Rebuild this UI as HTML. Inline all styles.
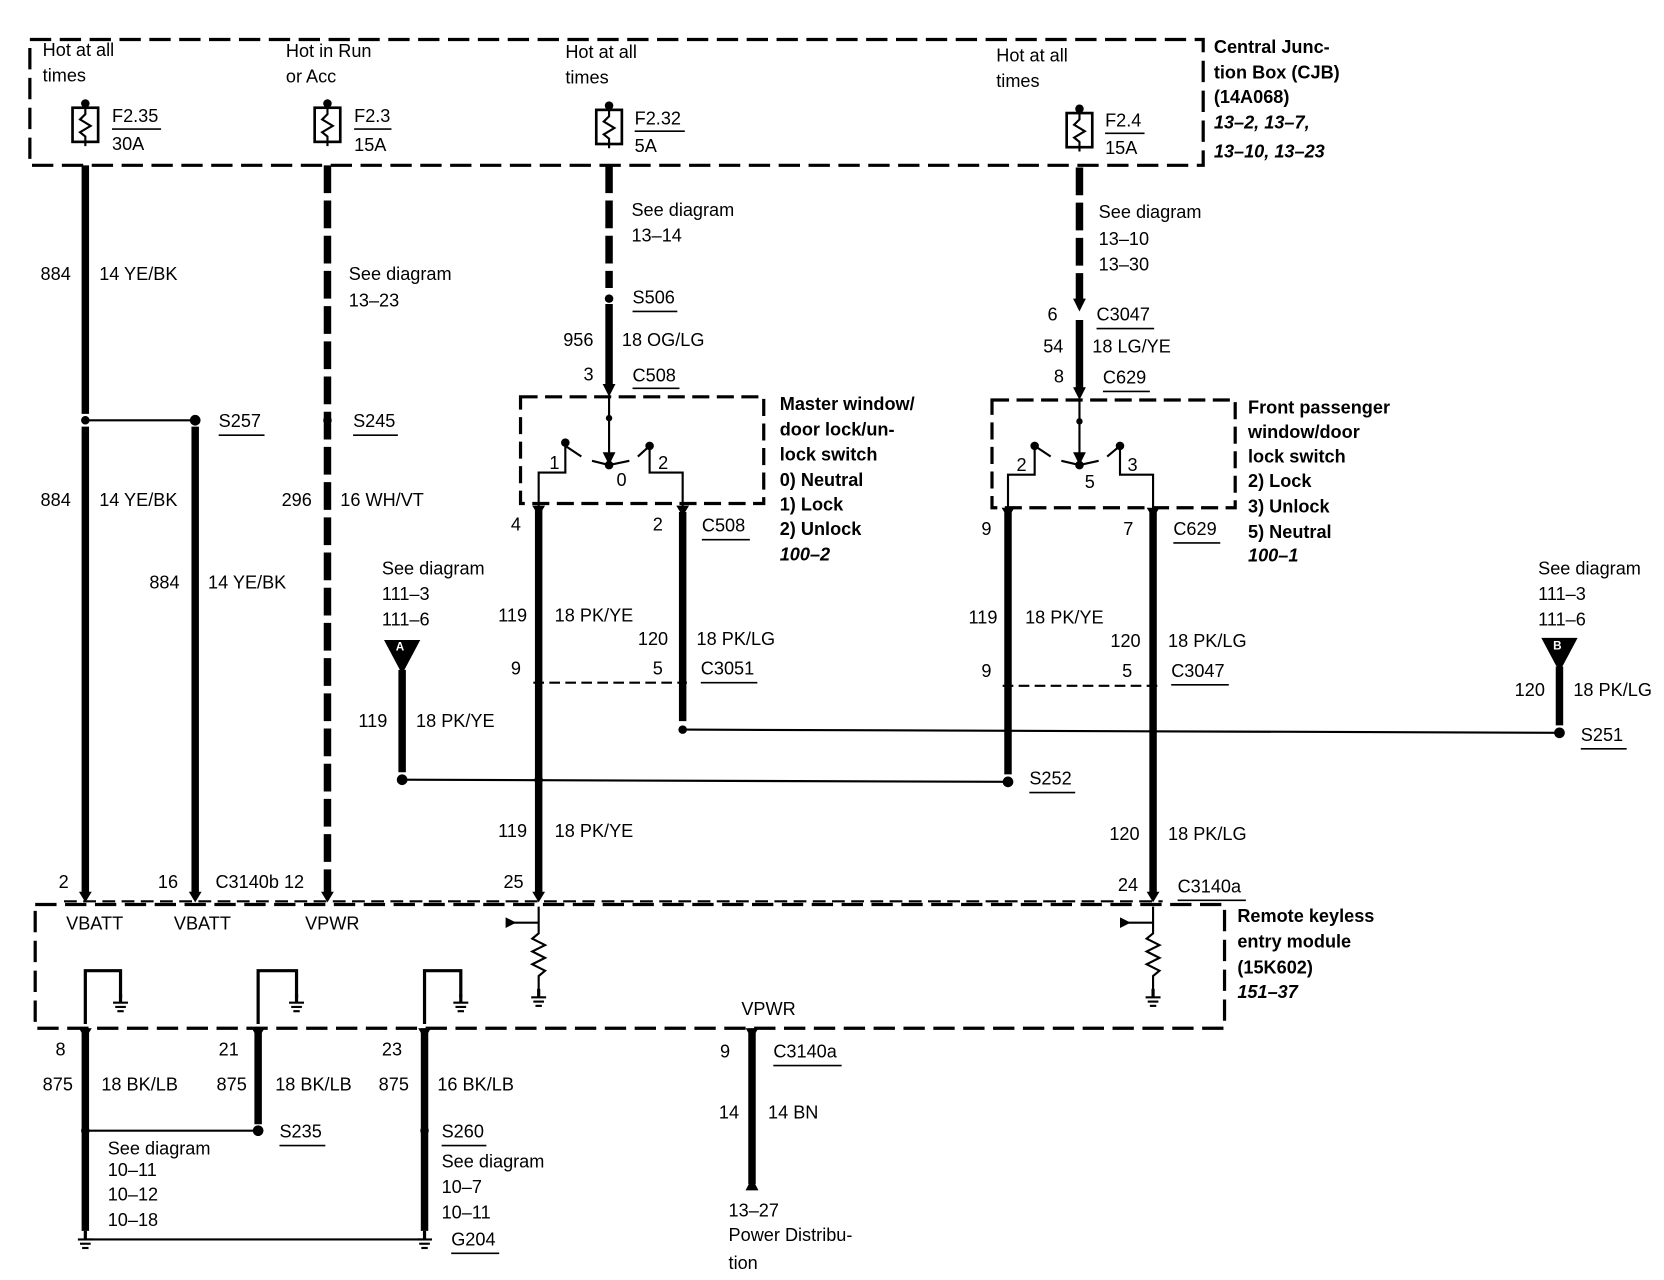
<!DOCTYPE html>
<html><head><meta charset="utf-8"><style>
html,body{margin:0;padding:0;background:#fff}
svg{display:block}
text{font-family:"Liberation Sans",Arial,sans-serif;font-size:17px;fill:#000;dominant-baseline:middle}
.b{font-weight:bold}
.i{font-style:italic;font-weight:bold}
</style></head><body>
<svg width="1664" height="1280" viewBox="0 0 1560 1200" preserveAspectRatio="none" xmlns="http://www.w3.org/2000/svg">
<defs>
<g id="fuse"><circle cx="0" cy="-18" r="4" fill="#000"/><rect x="-12" y="-14" width="24" height="32" fill="#fff" stroke="#000" stroke-width="2.5"/><path d="M0,-18 L0,-8 L-5,-3 L5,3 L-5,9 L0,13 L0,22" fill="none" stroke="#000" stroke-width="2"/></g>
<g id="gnd"><line x1="0" y1="-8" x2="0" y2="0" stroke="#000" stroke-width="3"/><line x1="-7" y1="0" x2="7" y2="0" stroke="#000" stroke-width="2"/><line x1="-5" y1="4" x2="5" y2="4" stroke="#000" stroke-width="2"/><line x1="-3" y1="8" x2="3" y2="8" stroke="#000" stroke-width="2"/></g>
</defs>
<g fill="none" stroke="#000">
<!-- CJB box -->
<rect x="28" y="37" width="1100" height="118" stroke-width="3" stroke-dasharray="20 8"/>
<!-- REM box -->
<rect x="33" y="848" width="1115" height="116" stroke-width="3" stroke-dasharray="20 8"/>
<!-- switch boxes -->
<rect x="488" y="372" width="228" height="100" stroke-width="3" stroke-dasharray="16 7"/>
<rect x="930" y="375" width="228" height="101" stroke-width="3" stroke-dasharray="16 7"/>
<!-- thick wires -->
<g stroke-width="7">
<line x1="80" y1="155" x2="80" y2="388"/><line x1="80" y1="400" x2="80" y2="838"/>
<line x1="183" y1="400" x2="183" y2="838"/>
<line x1="307" y1="155" x2="307" y2="838" stroke-dasharray="26 7"/>
<line x1="571" y1="155" x2="571" y2="270" stroke-dasharray="26 7"/>
<line x1="571" y1="285" x2="571" y2="362"/>
<line x1="1012" y1="157" x2="1012" y2="282" stroke-dasharray="26 7"/>
<line x1="1012" y1="300" x2="1012" y2="365"/>
<line x1="505" y1="478" x2="505" y2="838"/>
<line x1="640" y1="480" x2="640" y2="676"/>
<line x1="945" y1="480" x2="945" y2="726"/>
<line x1="1081" y1="480" x2="1081" y2="838"/>
<line x1="377" y1="628" x2="377" y2="724"/>
<line x1="1462" y1="625" x2="1462" y2="680"/>
<line x1="80" y1="964" x2="80" y2="1154"/>
<line x1="242" y1="964" x2="242" y2="1054"/>
<line x1="398" y1="964" x2="398" y2="1154"/>
<line x1="705" y1="964" x2="705" y2="1110"/>
</g>
<!-- thin wires -->
<g stroke-width="2">
<line x1="80" y1="394" x2="183" y2="394"/>
<line x1="640" y1="684" x2="1462" y2="687"/>
<line x1="377" y1="731" x2="945" y2="733"/>
<line x1="80" y1="1060" x2="242" y2="1060"/>
<line x1="80" y1="1162" x2="398" y2="1162"/>
<line x1="500" y1="640" x2="644" y2="640" stroke-dasharray="10 5"/>
<line x1="940" y1="643" x2="1086" y2="643" stroke-dasharray="10 5"/>
<line x1="60" y1="845" x2="1090" y2="845" stroke-dasharray="12 6"/>
<!-- switch internals -->
<line x1="571" y1="372" x2="571" y2="432"/>
<path d="M505,478 L505,443 L530,443 L530,415"/>
<path d="M640,480 L640,443 L609,443 L609,418"/>
<path d="M530,418 L545,428 M555,432 L571,436 L590,432 M598,428 L609,418"/>
<line x1="1012" y1="375" x2="1012" y2="432"/>
<path d="M945,480 L945,445 L970,445 L970,418"/>
<path d="M1081,480 L1081,445 L1050,445 L1050,418"/>
<path d="M970,418 L985,428 M995,432 L1012,436 L1030,432 M1038,428 L1050,418"/>
<!-- module internals -->
<line x1="505" y1="865" x2="478" y2="865"/>
<path d="M505,850 L505,875 L499,880 L511,886 L499,892 L511,898 L499,904 L511,910 L505,915 L505,932"/>
<line x1="1081" y1="865" x2="1054" y2="865"/>
<path d="M1081,850 L1081,875 L1075,880 L1087,886 L1075,892 L1087,898 L1075,904 L1087,910 L1081,915 L1081,932"/>
<path d="M80,960 L80,910 L113,910 L113,935" stroke-width="3"/>
<path d="M242,960 L242,910 L278,910 L278,935" stroke-width="3"/>
<path d="M398,960 L398,910 L432,910 L432,935" stroke-width="3"/>
</g>
</g>
<!-- fuses -->
<use href="#fuse" x="80" y="115"/><use href="#fuse" x="307" y="115"/><use href="#fuse" x="571" y="117"/><use href="#fuse" x="1012" y="120"/>
<!-- dots -->
<g fill="#000">
<circle cx="80" cy="394" r="4"/><circle cx="183" cy="394" r="5"/><circle cx="307" cy="394" r="4"/>
<circle cx="571" cy="280" r="4"/><circle cx="640" cy="684" r="4"/><circle cx="1462" cy="687" r="5"/>
<circle cx="505" cy="731" r="4"/><circle cx="377" cy="731" r="5"/><circle cx="945" cy="733" r="5"/>
<circle cx="80" cy="1060" r="4"/><circle cx="242" cy="1060" r="5"/><circle cx="398" cy="1060" r="4"/>
<circle cx="571" cy="392" r="3"/><circle cx="530" cy="415" r="4"/><circle cx="609" cy="418" r="4"/><circle cx="571" cy="436" r="4"/>
<circle cx="1012" cy="395" r="3"/><circle cx="970" cy="418" r="4"/><circle cx="1050" cy="418" r="4"/><circle cx="1012" cy="436" r="4"/>
<!-- arrows -->
<path d="M565,360 L577,360 L571,372Z"/><path d="M565,424 L577,424 L571,436Z"/>
<path d="M1006,363 L1018,363 L1012,375Z"/><path d="M1006,424 L1018,424 L1012,436Z"/>
<path d="M1006,280 L1018,280 L1012,292Z"/>
<path d="M74,836 L86,836 L80,846Z"/><path d="M177,836 L189,836 L183,846Z"/><path d="M301,836 L313,836 L307,846Z"/>
<path d="M499,836 L511,836 L505,846Z"/><path d="M1075,836 L1087,836 L1081,846Z"/>
<path d="M499,474 L511,474 L505,484Z"/><path d="M634,474 L646,474 L640,484Z"/>
<path d="M939,476 L951,476 L945,486Z"/><path d="M1075,476 L1087,476 L1081,486Z"/>
<path d="M484,865 L474,860 L474,870Z"/><path d="M1060,865 L1050,860 L1050,870Z"/>
<path d="M699,1116 L711,1116 L705,1104Z"/>
<path d="M74,964 L86,964 L80,974Z"/><path d="M236,964 L248,964 L242,974Z"/><path d="M392,964 L404,964 L398,974Z"/><path d="M699,964 L711,964 L705,974Z"/>
<path d="M360,600 L394,600 L377,632Z"/><path d="M1445,598 L1479,598 L1462,630Z"/>
</g>
<text x="371" y="607" style="font-size:11px;fill:#fff" class="b">A</text>
<text x="1456" y="606" style="font-size:11px;fill:#fff" class="b">B</text>
<use href="#gnd" x="505" y="935"/><use href="#gnd" x="1081" y="935"/>
<use href="#gnd" x="113" y="940"/><use href="#gnd" x="278" y="940"/><use href="#gnd" x="432" y="940"/>
<use href="#gnd" x="80" y="1162"/><use href="#gnd" x="398" y="1162"/>
<!-- underlines -->
<g stroke="#000" stroke-width="1.5">
<line x1="105" y1="121" x2="151" y2="121"/><line x1="332" y1="121" x2="367" y2="121"/><line x1="595" y1="123" x2="642" y2="123"/><line x1="1036" y1="125" x2="1073" y2="125"/>
<line x1="205" y1="408" x2="248" y2="408"/><line x1="331" y1="408" x2="373" y2="408"/>
<line x1="593" y1="292" x2="635" y2="292"/><line x1="593" y1="364" x2="637" y2="364"/>
<line x1="658" y1="506" x2="703" y2="506"/><line x1="657" y1="640" x2="710" y2="640"/>
<line x1="1028" y1="308" x2="1082" y2="308"/><line x1="1034" y1="367" x2="1078" y2="367"/>
<line x1="1100" y1="509" x2="1144" y2="509"/><line x1="1098" y1="642" x2="1152" y2="642"/>
<line x1="965" y1="743" x2="1008" y2="743"/><line x1="1482" y1="702" x2="1525" y2="702"/>
<line x1="1104" y1="844" x2="1168" y2="844"/><line x1="725" y1="999" x2="789" y2="999"/>
<line x1="262" y1="1074" x2="305" y2="1074"/><line x1="414" y1="1074" x2="456" y2="1074"/><line x1="423" y1="1175" x2="468" y2="1175"/>
</g>
<!-- texts -->
<text x="40" y="48">Hot at all</text><text x="40" y="72">times</text>
<text x="268" y="49">Hot in Run</text><text x="268" y="73">or Acc</text>
<text x="530" y="50">Hot at all</text><text x="530" y="74">times</text>
<text x="934" y="53">Hot at all</text><text x="934" y="77">times</text>
<text x="105" y="110">F2.35</text><text x="105" y="136">30A</text>
<text x="332" y="110">F2.3</text><text x="332" y="137">15A</text>
<text x="595" y="112">F2.32</text><text x="595" y="138">5A</text>
<text x="1036" y="114">F2.4</text><text x="1036" y="140">15A</text>
<text class="b" x="1138" y="45">Central Junc-</text><text class="b" x="1138" y="69">tion Box (CJB)</text><text class="b" x="1138" y="92">(14A068)</text>
<text class="i" x="1138" y="116">13–2, 13–7,</text><text class="i" x="1138" y="143">13–10, 13–23</text>
<text x="38" y="258">884</text><text x="93" y="258">14 YE/BK</text>
<text x="38" y="470">884</text><text x="93" y="470">14 YE/BK</text>
<text x="140" y="547">884</text><text x="195" y="547">14 YE/BK</text>
<text x="205" y="396">S257</text><text x="331" y="396">S245</text>
<text x="327" y="258">See diagram</text><text x="327" y="283">13–23</text>
<text x="264" y="470">296</text><text x="319" y="470">16 WH/VT</text>
<text x="55" y="828">2</text><text x="148" y="828">16</text><text x="202" y="828">C3140b 12</text>
<text x="592" y="198">See diagram</text><text x="592" y="222">13–14</text>
<text x="593" y="280">S506</text><text x="528" y="320">956</text><text x="583" y="320">18 OG/LG</text>
<text x="547" y="352">3</text><text x="593" y="353">C508</text>
<text x="515" y="435">1</text><text x="617" y="435">2</text><text x="578" y="451">0</text>
<text class="b" x="731" y="380">Master window/</text><text class="b" x="731" y="404">door lock/un-</text><text class="b" x="731" y="427">lock switch</text>
<text class="b" x="731" y="451">0)   Neutral</text><text class="b" x="731" y="474">1)   Lock</text><text class="b" x="731" y="497">2)   Unlock</text><text class="i" x="731" y="521">100–2</text>
<text x="479" y="493">4</text><text x="612" y="493">2</text><text x="658" y="494">C508</text>
<text x="467" y="578">119</text><text x="520" y="578">18 PK/YE</text>
<text x="598" y="600">120</text><text x="653" y="600">18 PK/LG</text>
<text x="479" y="628">9</text><text x="612" y="628">5</text><text x="657" y="628">C3051</text>
<text x="358" y="534">See diagram</text><text x="358" y="558">111–3</text><text x="358" y="582">111–6</text>
<text x="336" y="677">119</text><text x="390" y="677">18 PK/YE</text>
<text x="467" y="780">119</text><text x="520" y="780">18 PK/YE</text><text x="472" y="828">25</text>
<text x="1030" y="200">See diagram</text><text x="1030" y="225">13–10</text><text x="1030" y="249">13–30</text>
<text x="982" y="296">6</text><text x="1028" y="296">C3047</text>
<text x="978" y="326">54</text><text x="1024" y="326">18 LG/YE</text>
<text x="988" y="354">8</text><text x="1034" y="355">C629</text>
<text x="953" y="437">2</text><text x="1057" y="437">3</text><text x="1017" y="453">5</text>
<text class="b" x="1170" y="383">Front passenger</text><text class="b" x="1170" y="406">window/door</text><text class="b" x="1170" y="429">lock switch</text>
<text class="b" x="1170" y="452">2)   Lock</text><text class="b" x="1170" y="476">3)   Unlock</text><text class="b" x="1170" y="500">5)   Neutral</text><text class="i" x="1170" y="522">100–1</text>
<text x="920" y="497">9</text><text x="1053" y="497">7</text><text x="1100" y="497">C629</text>
<text x="908" y="580">119</text><text x="961" y="580">18 PK/YE</text>
<text x="1041" y="602">120</text><text x="1095" y="602">18 PK/LG</text>
<text x="920" y="630">9</text><text x="1052" y="630">5</text><text x="1098" y="630">C3047</text>
<text x="965" y="731">S252</text>
<text x="1040" y="783">120</text><text x="1095" y="783">18 PK/LG</text>
<text x="1048" y="831">24</text><text x="1104" y="832">C3140a</text>
<text x="1442" y="534">See diagram</text><text x="1442" y="558">111–3</text><text x="1442" y="582">111–6</text>
<text x="1420" y="648">120</text><text x="1475" y="648">18 PK/LG</text><text x="1482" y="690">S251</text>
<text x="62" y="867">VBATT</text><text x="163" y="867">VBATT</text><text x="286" y="867">VPWR</text><text x="695" y="947">VPWR</text>
<text class="b" x="1160" y="860">Remote keyless</text><text class="b" x="1160" y="884">entry module</text><text class="b" x="1160" y="908">(15K602)</text><text class="i" x="1160" y="931">151–37</text>
<text x="52" y="985">8</text><text x="205" y="985">21</text><text x="358" y="985">23</text>
<text x="40" y="1018">875</text><text x="95" y="1018">18 BK/LB</text>
<text x="203" y="1018">875</text><text x="258" y="1018">18 BK/LB</text>
<text x="355" y="1018">875</text><text x="410" y="1018">16 BK/LB</text>
<text x="262" y="1062">S235</text><text x="414" y="1062">S260</text>
<text x="101" y="1078">See diagram</text><text x="101" y="1098">10–11</text><text x="101" y="1121">10–12</text><text x="101" y="1145">10–18</text>
<text x="414" y="1090">See diagram</text><text x="414" y="1114">10–7</text><text x="414" y="1138">10–11</text>
<text x="423" y="1163">G204</text>
<text x="675" y="987">9</text><text x="725" y="987">C3140a</text>
<text x="674" y="1044">14</text><text x="720" y="1044">14 BN</text>
<text x="683" y="1136">13–27</text><text x="683" y="1159">Power Distribu-</text><text x="683" y="1185">tion</text>
</svg>
</body></html>
